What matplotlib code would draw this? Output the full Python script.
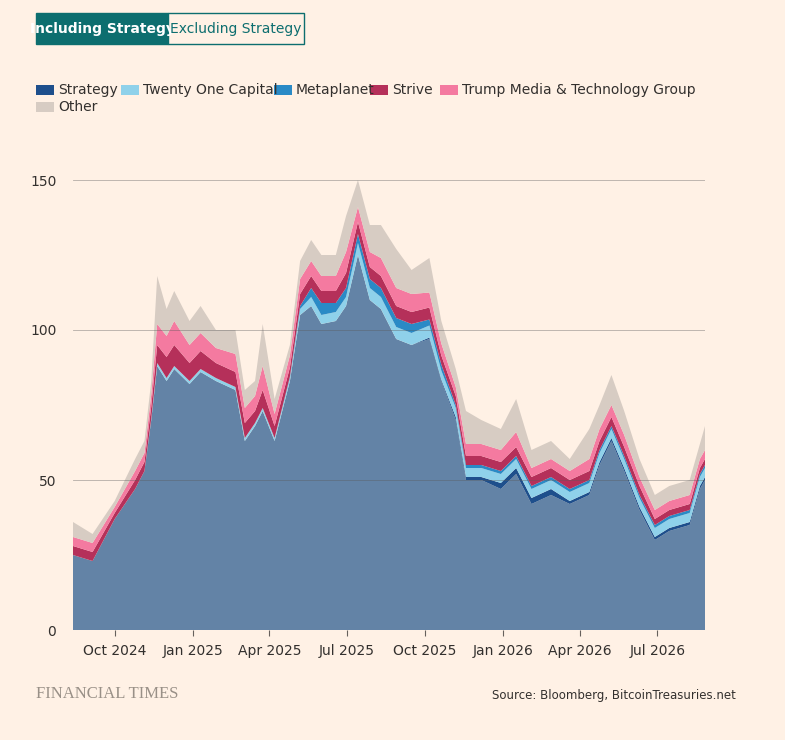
import matplotlib
matplotlib.use("Agg")
from matplotlib import pyplot as plt
from matplotlib.patches import Rectangle
import matplotlib.dates as mdates
import numpy as np
import pandas as pd

dates = pd.to_datetime([
    "2024-08-13", "2024-09-05", "2024-10-01", "2024-10-25", "2024-11-05", "2024-11-13",
    "2024-11-20", "2024-12-01", "2024-12-10", "2024-12-28", "2025-01-10", "2025-01-28",
    "2025-02-20", "2025-03-03", "2025-03-15", "2025-03-24", "2025-04-07", "2025-04-25",
    "2025-05-07", "2025-05-20", "2025-06-01", "2025-06-18", "2025-06-30", "2025-07-14",
    "2025-07-28", "2025-08-10", "2025-08-28", "2025-09-15", "2025-10-06", "2025-10-20",
    "2025-11-06", "2025-11-18", "2025-12-06", "2025-12-29", "2026-01-16", "2026-02-03",
    "2026-02-26", "2026-03-20", "2026-04-12", "2026-04-24", "2026-05-08", "2026-05-23",
    "2026-06-10", "2026-06-28", "2026-07-15", "2026-08-08", "2026-08-20", "2026-08-26",
])
base = [25, 23, 37, 47, 53, 70, 88, 83, 87, 82, 86, 83, 80, 63, 68, 73, 63, 83,
        105, 108, 102, 103, 108, 125, 110, 107, 97, 95, 97, 83, 70, 50, 50, 47, 52, 42,
        45, 42, 45, 55, 63, 53, 40, 30, 33, 35, 47, 50]
strategy = [0] * 28 + [0.5, 0.5, 1, 1, 1, 2, 2, 2, 2, 1, 1, 1, 1, 1, 1, 1, 1, 1, 1, 1]
twenty_one = [0, 0, 0, 0, 0, 0.5, 1, 1, 1, 1, 1, 1, 1, 1, 1, 1, 1, 1, 2, 3, 3, 3, 3, 4,
              4, 4, 4, 4, 4, 3, 3, 3, 3, 3, 3, 3, 3, 3, 3, 3, 3, 3, 3, 3, 3, 3, 3, 3]
metaplanet = [0] * 17 + [0.5, 1, 3, 4, 3, 3, 3, 3, 3, 3, 3, 2, 2, 1, 1, 1, 1, 1, 1,
                         1, 1, 1, 1, 1, 1, 1, 1, 1, 1, 1, 1]
strive = [3, 3, 2, 3, 3, 4, 6, 7, 7, 6, 6, 5, 5, 5, 4, 6, 4, 3, 4, 4, 4, 4, 5, 4,
          4, 4, 4, 4, 4, 3, 3, 3, 3, 3, 3, 3, 3, 3, 3, 3, 3, 3, 3, 2, 2, 2, 2, 2]
trump = [3, 3, 2, 3, 3, 4, 7, 7, 8, 6, 6, 5, 6, 5, 5, 8, 4, 4, 5, 5, 5, 5, 7, 5,
         5, 6, 6, 6, 5, 4, 3, 4, 4, 4, 5, 3, 3, 3, 4, 4, 4, 4, 3, 3, 3, 3, 3, 3]
other = [5, 3, 2, 4, 4, 4.5, 16, 9, 10, 8, 9, 6, 8, 6, 5, 14, 5, 3.5, 6, 7, 7, 7, 12, 9,
         9, 11, 13, 8, 11.5, 7.5, 6, 11, 8, 7, 11, 6, 6, 4, 10, 8, 10, 8, 6, 5, 5, 5, 5, 8]

labels = ["Strategy", "Twenty One Capital", "Metaplanet", "Strive",
          "Trump Media & Technology Group", "Other"]
colors = ["#1e4f8c", "#8fd1ea", "#2a8ac6", "#b5305a", "#f47aa0", "#d7ccc3"]
bg = "#fff1e5"

fig = plt.figure(figsize=(7.85, 7.4), dpi=100, facecolor=bg)
ax = fig.add_axes([73 / 785, 110 / 740, 632 / 785, 470 / 740], facecolor=bg)

ax.stackplot(dates, base, strategy, twenty_one, metaplanet, strive, trump, other,
             colors=["#6383a6"] + colors, linewidth=0)
ax.set_ylim(0, 150 * 470 / 450)
ax.set_xlim(dates[0], dates[-1])
for v in [50, 100, 150]:
    ax.axhline(v, color="#5a5a5a", lw=0.6, alpha=0.45, zorder=5)
ax.set_yticks([0, 50, 100, 150])
ax.xaxis.set_major_locator(mdates.MonthLocator(bymonth=[1, 4, 7, 10]))
ax.xaxis.set_major_formatter(mdates.DateFormatter("%b %Y"))
ax.tick_params(axis="both", length=0, labelsize=10, colors="#33302e", pad=12)
ax.tick_params(axis="x", length=4, color="#66605c", pad=6)
for s in ax.spines.values():
    s.set_visible(False)

# toggle buttons
fig.patches.append(Rectangle((36 / 785, 1 - 44 / 740), 132 / 785, 31 / 740,
                             transform=fig.transFigure, facecolor="#0d6e6f",
                             edgecolor="#0d6e6f", lw=1))
fig.patches.append(Rectangle((168 / 785, 1 - 44 / 740), 136 / 785, 31 / 740,
                             transform=fig.transFigure, facecolor=bg,
                             edgecolor="#0d6e6f", lw=1))
fig.text(102 / 785, 1 - 29 / 740, "Including Strategy", color="white", fontsize=10,
         fontweight="bold", ha="center", va="center")
fig.text(236 / 785, 1 - 29 / 740, "Excluding Strategy", color="#0d6e6f", fontsize=10,
         ha="center", va="center")

# legend
legend_pos = [(36, 90), (121, 90), (274, 90), (370, 90), (440, 90), (36, 107)]
for (lx, ly), lab, c in zip(legend_pos, labels, colors):
    fig.patches.append(Rectangle((lx / 785, 1 - (ly + 5) / 740), 18 / 785, 10 / 740,
                                 transform=fig.transFigure, facecolor=c))
    fig.text((lx + 22) / 785, 1 - ly / 740, lab, fontsize=10, color="#33302e",
             va="center")

fig.text(36 / 785, 1 - 694 / 740, "FINANCIAL TIMES", fontsize=12, color="#999087",
         family="Liberation Serif", va="center")
src = fig.text(736 / 785, 1 - 695 / 740, "Source: Bloomberg, BitcoinTreasuries.net",
               fontsize=8.5, color="#33302e", ha="right", va="center")
fig.savefig("out.png", dpi=100, facecolor=bg)
